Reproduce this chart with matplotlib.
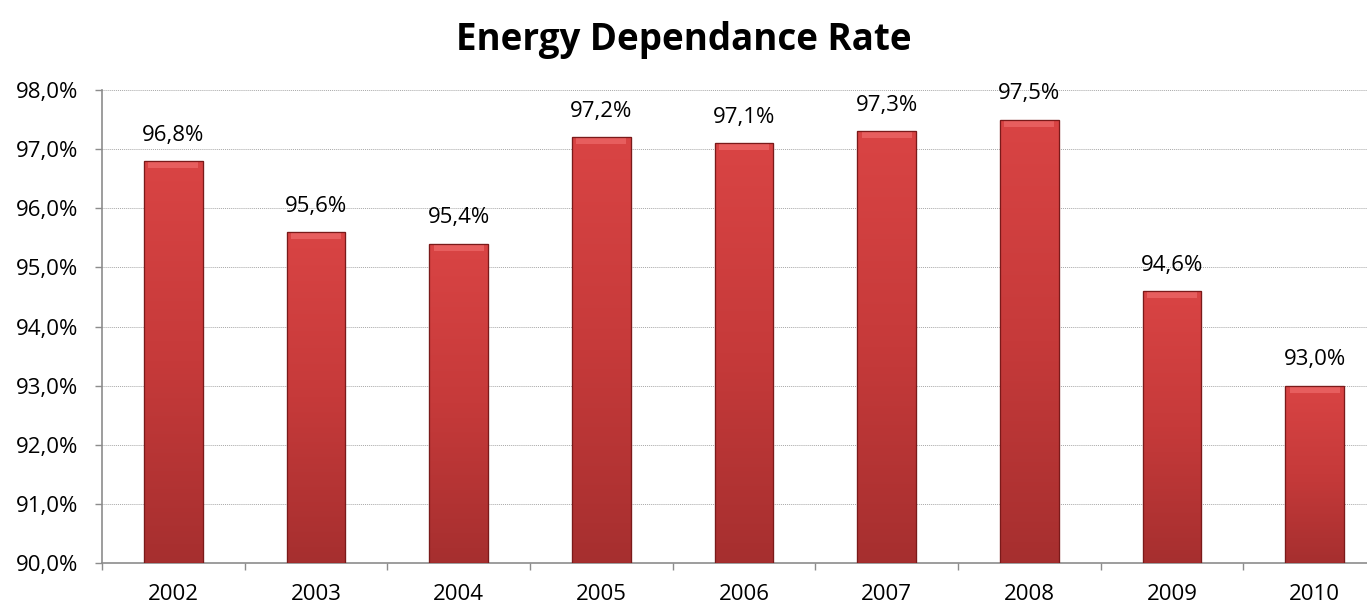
import matplotlib
matplotlib.use("Agg")
import matplotlib.pyplot as plt
import numpy as np
from matplotlib.colors import LinearSegmentedColormap

years = ["2002", "2003", "2004", "2005", "2006", "2007", "2008", "2009", "2010"]
values = [96.8, 95.6, 95.4, 97.2, 97.1, 97.3, 97.5, 94.6, 93.0]
yticks = [90, 91, 92, 93, 94, 95, 96, 97, 98]

plt.rcParams['font.family'] = ['Open Sans', 'DejaVu Sans']

fig = plt.figure(figsize=(13.67, 6.08), dpi=100)
ax = fig.add_axes([102/1367, 1-563/608, 1284/1367, (563-90)/608])

x = np.arange(len(years))
bars = ax.bar(x, [v - 90 for v in values], bottom=90, width=0.41,
              color="#D64242", edgecolor="#8E2020", linewidth=0.8, zorder=3)

# vertical gradient inside each bar
cmap = LinearSegmentedColormap.from_list("g", ["#A62F2F", "#C63A3A", "#D94444"])
grad = np.linspace(0, 1, 256).reshape(-1, 1)
for b in bars:
    x0, y0 = b.get_x(), b.get_y()
    w, h = b.get_width(), b.get_height()
    im = ax.imshow(grad, extent=(x0, x0 + w, y0, y0 + h), origin="lower",
                   cmap=cmap, aspect="auto", zorder=3.5)
    im.set_clip_path(b)
    # top bevel highlight
    ax.fill_between([x0 + 0.03, x0 + w - 0.03], y0 + h - 0.12, y0 + h, color="#EE6A6A",
                    alpha=0.7, zorder=3.6, linewidth=0)
    ax.bar(b.get_x() + w/2, h, bottom=y0, width=w, facecolor="none",
           edgecolor="#7A1A1A", linewidth=0.9, zorder=3.7)

for xi, v in zip(x, values):
    ax.text(xi, v + 0.26, f"{v:.1f}%".replace(".", ","), ha="center", va="bottom",
            fontsize=16, color="#000000", zorder=5)

ax.set_xlim(-0.5, len(years) - 0.5)
ax.set_ylim(90, 98)
ax.set_yticks(yticks)
ax.set_yticklabels([f"{t:.1f}%".replace(".", ",") for t in yticks], fontsize=16)
ax.set_xticks(x)
ax.set_xticklabels(years, fontsize=16)
ax.tick_params(axis="x", length=0, pad=15)
ax.set_xticks(np.arange(len(years) + 1) - 0.5, minor=True)
ax.tick_params(axis="x", which="minor", length=5, color="#8C8C8C", width=1)
ax.tick_params(axis="y", length=5, color="#8C8C8C", width=1, pad=12)

ax.grid(axis="y", color="#A8A8A8", linestyle=(0, (1, 1)), linewidth=0.7, zorder=0)
ax.set_axisbelow(True)
for s in ["top", "right"]:
    ax.spines[s].set_visible(False)
for s in ["left", "bottom"]:
    ax.spines[s].set_color("#8C8C8C")
    ax.spines[s].set_linewidth(1.2)

fig.text(684/1367, 1-40/608, "Energy Dependance Rate", ha="center", va="center",
         fontsize=26.5, fontweight="bold")

fig.savefig("out.png", dpi=100)
